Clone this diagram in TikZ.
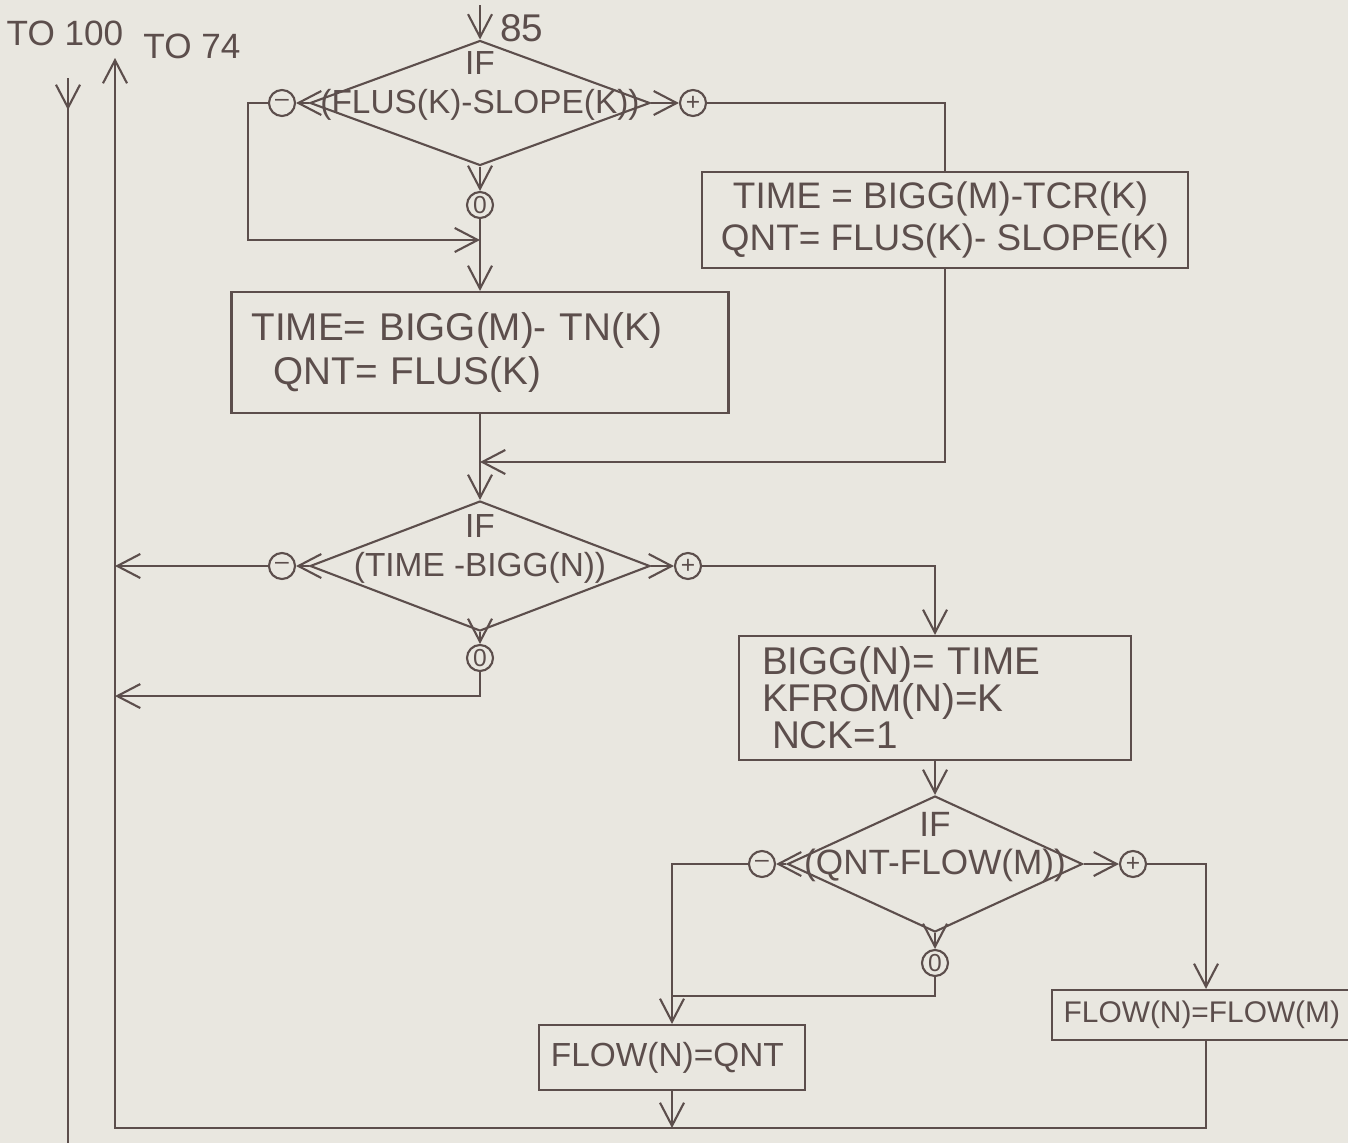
\documentclass[tikz,border=0pt]{standalone}
\usepackage{fontspec}
\setmainfont{Liberation Sans}
\usepackage{tikz}
\usetikzlibrary{
    arrows.meta,
    positioning,
    calc,
    shapes.geometric
}
\definecolor{PaperTone}{RGB}{233,231,224}
\definecolor{PencilInk}{RGB}{92,78,76}
\colorlet{Paper}{PaperTone}
\colorlet{Ink}{PencilInk}

\begin{document}
\begin{tikzpicture}[
    color=Ink,
    line width=0.6pt,
    assign/.style={
        draw=Ink,
        rectangle,
        align=left,
        inner ysep=0.05cm,
        font=\fontsize{11}{12.5}\selectfont
    },
    test/.style={
        draw=Ink,
        diamond,
        inner sep=0pt
    },
    cond/.style={
        font=\fontsize{9.5}{11}\selectfont,
        align=center,
        yshift=0.17cm
    },
    sign/.style={
        draw=Ink,
        circle,
        inner sep=0pt,
        minimum size=2.6mm,
        font=\fontsize{7}{7}\selectfont
    },
    note/.style={
        font=\fontsize{10}{12}\selectfont
    },
    flow/.style={
        -{Straight Barb[length=2.3mm,width=2.4mm]}
    }
]
%
\useasboundingbox (0,0) rectangle (13.48,-11.43);
\fill[Paper] (0,0) rectangle (13.48,-11.43);
%
\coordinate (entry) at (4.80,-0.05);
\coordinate (to100) at (0.68,-0.78);
\coordinate (to100end) at (0.68,-11.43);
\coordinate (to74) at (1.15,-0.58);
\coordinate (floor) at (0,-11.28);
\coordinate (joina) at (4.80,-2.40);
\coordinate (joinb) at (4.80,-4.62);
%
\node[note] (lblhundred) at (0.65,-0.33) {TO 100};
%
\node[note] (lblseventyfour) at (1.92,-0.46) {TO 74};
%
\node[note, font=\fontsize{11}{12}\selectfont] (lblentry) at (5.22,-0.28) {85};
%
\node[
    test,
    minimum width=3.4cm,
    minimum height=1.25cm,
    label={[cond]center:IF\\(FLUS(K)-SLOPE(K))}
] (ifslope) at (4.80,-1.03) {};
%
\node[sign] (neg1) at (2.82,-1.03) {–};
\node[sign] (pos1) at (6.93,-1.03) {+};
\node[sign] (zero1) at (4.80,-2.05) {0};
%
\node[assign, minimum width=4.86cm, minimum height=0.96cm,
    font=\fontsize{10.5}{12}\selectfont] (ccalc) at (9.45,-2.20) {
    \hspace*{0.12cm}TIME = BIGG(M)-TCR(K)\\
    QNT= FLUS(K)- SLOPE(K)
};
%
\node[assign, minimum width=4.97cm, minimum height=1.21cm,
    text width=4.57cm, inner xsep=0.2cm] (ncalc) at (4.80,-3.525) {
    TIME= BIGG(M)- TN(K)\\
    \hspace*{0.22cm}QNT= FLUS(K)
};
%
\node[
    test,
    minimum width=3.4cm,
    minimum height=1.30cm,
    label={[cond]center:IF\\(TIME -BIGG(N))}
] (iftime) at (4.80,-5.66) {};
%
\node[sign] (neg2) at (2.82,-5.66) {–};
\node[sign] (pos2) at (6.88,-5.66) {+};
\node[sign] (zero2) at (4.80,-6.58) {0};
%
\node[assign, minimum width=3.92cm, minimum height=1.24cm,
    text width=3.46cm, inner xsep=0.23cm,
    font=\fontsize{11}{10.5}\selectfont] (newbig) at (9.35,-6.98) {
    BIGG(N)= TIME\\
    KFROM(N)=K\\
    \hspace*{0.1cm}NCK=1
};
%
\node[
    test,
    minimum width=2.95cm,
    minimum height=1.36cm,
    label={[cond, font=\fontsize{10}{11}\selectfont]center:IF\\(QNT-FLOW(M))}
] (ifflow) at (9.35,-8.64) {};
%
\node[sign] (neg3) at (7.62,-8.64) {–};
\node[sign] (pos3) at (11.33,-8.64) {+};
\node[sign] (zero3) at (9.35,-9.63) {0};
%
\node[assign, minimum width=2.62cm, minimum height=0.65cm,
    font=\fontsize{9.5}{11}\selectfont] (setqnt) at (6.72,-10.575) {
    FLOW(N)=QNT
};
%
\node[assign, minimum width=2.80cm, minimum height=0.50cm,
    font=\fontsize{8.5}{10}\selectfont] (setflow) at (12.06,-10.15) {
    FLOW(N)=FLOW(M)
};
%
\draw[flow] (entry) -- (ifslope.north);
%
\draw (to100) -- (to100end);
\draw[flow] (to100) -- ++(0,-0.32);
%
\draw[flow] (ifslope.west) -- (neg1);
\draw[flow] (ifslope.east) -- (pos1);
\draw[flow] (ifslope.south) -- (zero1);
%
\draw[flow]
    (neg1.west)
    --
    ++(-0.20,0)
    |-
    (joina);
%
\draw[flow] (zero1.south) -- (ncalc.north);
%
\draw (pos1.east) -| (ccalc.north);
%
\draw[flow]
    (ccalc.south)
    |-
    (joinb);
%
\draw[flow] (ncalc.south) -- (iftime.north);
%
\draw[flow] (iftime.west) -- (neg2);
\draw[flow] (iftime.east) -- (pos2);
\draw[flow] (iftime.south) -- (zero2);
%
\draw[flow] (neg2.west) -- (neg2.west -| to74);
%
\draw[flow]
    (zero2.south)
    --
    ++(0,-0.24) coordinate (zero2turn)
    --
    (zero2turn -| to74);
%
\draw[flow] (pos2.east) -| (newbig.north);
%
\draw[flow] (newbig.south) -- (ifflow.north);
%
\draw[flow] (ifflow.west) -- (neg3);
\draw[flow] (ifflow.east) -- (pos3);
\draw[flow] (ifflow.south) -- (zero3);
%
\draw[flow] (neg3.west) -| (setqnt.north);
%
\draw
    (zero3.south)
    --
    ++(0,-0.19) coordinate (zero3turn)
    --
    (zero3turn -| setqnt.north);
%
\draw[flow] (pos3.east) -| (setflow.north);
%
\draw[flow] (setqnt.south) -- (setqnt.south |- floor);
%
\draw[flow]
    (setflow.south)
    --
    (setflow.south |- floor)
    -|
    (to74);
%
\end{tikzpicture}
\end{document}
